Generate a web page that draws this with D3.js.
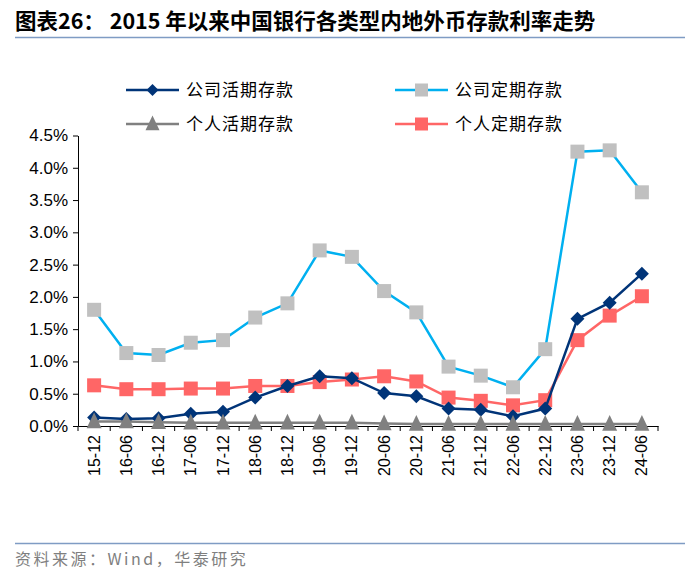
<!DOCTYPE html><meta charset="utf-8">
<title>外币存款利率走势</title>
<style>
  body{margin:0;background:#fff}
  svg{display:block}
  text{font-family:"Liberation Sans","Noto Sans CJK SC",sans-serif}
  .cjk{font-family:"Noto Sans CJK SC",sans-serif}
</style>
<script src="https://d3js.org/d3.v7.min.js"></script>
<body><script>
const categories = ["15-12","16-06","16-12","17-06","17-12","18-06","18-12","19-06","19-12",
  "20-06","20-12","21-06","21-12","22-06","22-12","23-06","23-12","24-06"];
const corpDemand = [0.13,0.11,0.12,0.19,0.22,0.44,0.62,0.77,0.74,0.51,0.46,0.27,0.25,0.15,0.27,1.66,1.91,2.36];
const corpTime   = [1.80,1.13,1.10,1.29,1.33,1.68,1.90,2.72,2.62,2.09,1.76,0.92,0.78,0.60,1.19,4.25,4.27,3.62];
const persDemand = [0.07,0.07,0.06,0.05,0.05,0.05,0.05,0.05,0.05,0.04,0.03,0.03,0.03,0.03,0.03,0.03,0.03,0.03];
const persTime   = [0.63,0.57,0.57,0.58,0.58,0.62,0.62,0.68,0.72,0.77,0.69,0.44,0.39,0.32,0.40,1.33,1.71,2.01];
const yTicks = [0,0.5,1,1.5,2,2.5,3,3.5,4,4.5];

const series = [
  {name:"公司活期存款", values:corpDemand, line:"#003478", fill:"#003478", shape:"diamond"},
  {name:"公司定期存款", values:corpTime,   line:"#00b0f0", fill:"#c0c0c0", shape:"square"},
  {name:"个人活期存款", values:persDemand, line:"#808080", fill:"#808080", shape:"triangle"},
  {name:"个人定期存款", values:persTime,   line:"#ff6666", fill:"#ff6666", shape:"square"}
];
// draw order: demand lines on top
const drawOrder = [1,3,0,2];

const W = 700, H = 576;
const svg = d3.select("body").append("svg").attr("width",W).attr("height",H);

/* ---- title + rules ---- */
svg.append("text").attr("x",15).attr("y",29)
  .attr("class","cjk").style("font-weight","bold").style("font-size","21.5px").attr("fill","#000")
  .text("图表26：  2015 年以来中国银行各类型内地外币存款利率走势");
svg.append("line").attr("x1",15).attr("x2",685).attr("y1",37.5).attr("y2",37.5)
  .attr("stroke","#7f9cc4").attr("stroke-width",1.5);
svg.append("line").attr("x1",15).attr("x2",685).attr("y1",543.5).attr("y2",543.5)
  .attr("stroke","#7f9cc4").attr("stroke-width",1.5);
svg.append("text").attr("x",15).attr("y",565).attr("class","cjk")
  .style("font-size","16px").style("letter-spacing","2.5px").attr("fill","#7f7f7f")
  .text("资料来源：Wind，华泰研究");

/* ---- scales ---- */
const x = d3.scaleBand().domain(categories).range([78,658]);
const y = d3.scaleLinear().domain([0,4.5]).range([426,135.5]);
const cx = d => x(d) + x.bandwidth()/2;

/* ---- axes ---- */
const yAxis = d3.axisLeft(y).tickValues(yTicks).tickSize(5).tickSizeOuter(0)
  .tickFormat(d => d.toFixed(1) + "%");
const gy = svg.append("g").attr("transform","translate(78,0)").call(yAxis);
gy.selectAll("text").style("font-size","17px").attr("fill","#000").attr("x",-10);
gy.selectAll("line,path").attr("stroke","#000");

const gx = svg.append("g").attr("transform","translate(0,426)")
  .call(d3.axisBottom(x).tickSize(0).tickSizeOuter(0));
gx.select("path").attr("stroke","#000");
gx.selectAll("text").style("font-size","16px").attr("fill","#000")
  .attr("transform","rotate(-90)").attr("text-anchor","end")
  .attr("x",-9).attr("y",0).attr("dy","0.35em");
// ticks between categories
svg.append("g").selectAll("line")
  .data(d3.range(categories.length + 1)).enter().append("line")
  .attr("x1",i => 78 + i*x.step()).attr("x2",i => 78 + i*x.step())
  .attr("y1",426).attr("y2",431).attr("stroke","#000");

/* ---- markers ---- */
function marker(g, shape, fill, size){
  if(shape === "diamond"){
    const h = size/2;
    g.append("path").attr("d",`M0,${-h}L${h},0L0,${h}L${-h},0Z`).attr("fill",fill);
  } else if(shape === "square"){
    g.append("rect").attr("x",-size/2).attr("y",-size/2)
      .attr("width",size).attr("height",size).attr("fill",fill);
  } else {
    g.append("path").attr("d",`M0,${-size*0.6}L${size/2},${size*0.45}L${-size/2},${size*0.45}Z`)
      .attr("fill",fill);
  }
}

/* ---- lines ---- */
const line = d3.line().x((d,i) => cx(categories[i])).y(d => y(d));
for(const k of drawOrder){
  const s = series[k];
  svg.append("path").datum(s.values).attr("d",line)
    .attr("fill","none").attr("stroke",s.line).attr("stroke-width",2.5);
  const size = s.shape === "square" ? 14 : (s.shape === "diamond" ? 14 : 15);
  svg.append("g").selectAll("g").data(s.values).enter().append("g")
    .attr("transform",(d,i) => `translate(${cx(categories[i])},${y(d)})`)
    .each(function(){ marker(d3.select(this), s.shape, s.fill, size); });
}

/* ---- legend ---- */
const legendPos = [[126,90],[395,90],[126,124],[395,124]];
series.forEach((s,i) => {
  const [lx,ly] = legendPos[i];
  const g = svg.append("g").attr("transform",`translate(${lx},${ly})`);
  g.append("line").attr("x1",0).attr("x2",53).attr("stroke",s.line).attr("stroke-width",2.5);
  const m = g.append("g").attr("transform","translate(26.5,0)");
  marker(m, s.shape, s.fill, s.shape === "square" ? 13 : (s.shape === "diamond" ? 12 : 14));
  g.append("text").attr("x",60).attr("y",0).attr("dy","0.35em").attr("class","cjk")
    .style("font-size","17px").style("letter-spacing","1px").attr("fill","#000").text(s.name);
});
</script>
